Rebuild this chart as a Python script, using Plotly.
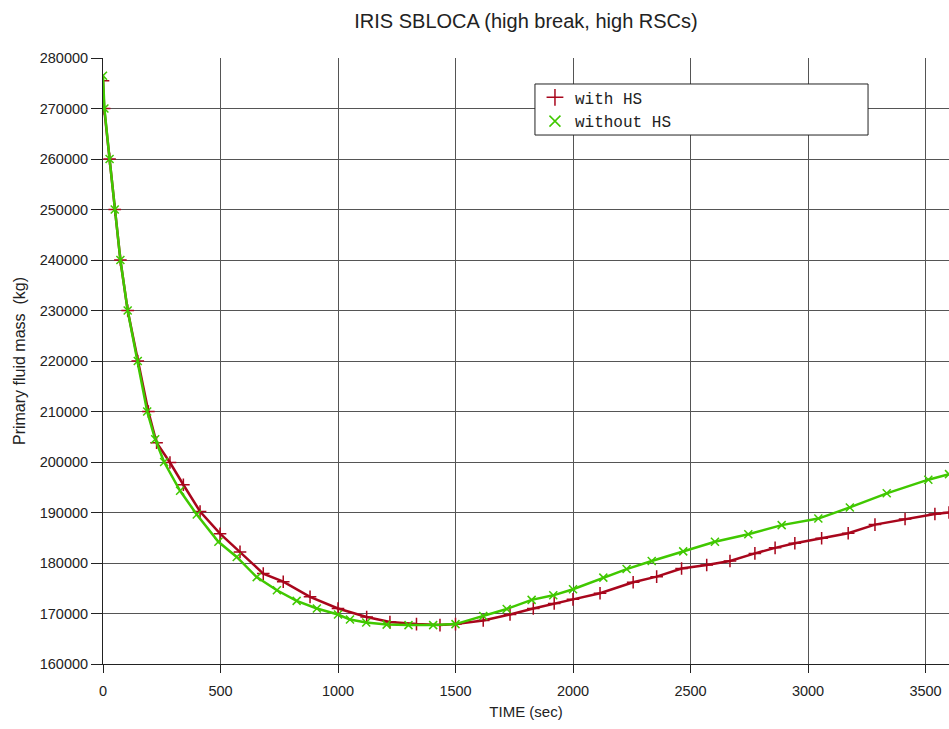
import plotly.graph_objects as go

# Primary fluid mass history, IRIS small-break LOCA (high break, high RSCs)
t_with_hs = [0, 5, 28, 50, 74, 105, 148, 193, 228, 285, 342, 413, 498, 583, 682,
             767, 881, 1000, 1122, 1221, 1334, 1434, 1500, 1618, 1732, 1831, 1920,
             2000, 2115, 2256, 2356, 2462, 2569, 2668, 2774, 2860, 2944, 3058, 3171,
             3285, 3413, 3540, 3600]
m_with_hs = [275500, 270000, 260000, 250000, 240000, 230000, 220000, 210000, 203800,
             199900, 195500, 190200, 185800, 182200, 177900, 176300, 173300, 171000,
             169300, 168300, 167900, 167700, 167900, 168600, 169800, 171000, 172000,
             172800, 174000, 176200, 177300, 178900, 179600, 180400, 181900, 183000,
             183900, 184900, 185900, 187600, 188700, 189700, 190000]

t_without_hs = [0, 6, 28, 50, 74, 105, 148, 188, 222, 260, 328, 399, 491, 569, 654,
                740, 824, 910, 1000, 1051, 1120, 1207, 1300, 1405, 1500, 1618, 1718,
                1824, 1916, 2000, 2129, 2228, 2335, 2469, 2604, 2746, 2888, 3044, 3178,
                3335, 3512, 3600]
m_without_hs = [276500, 270000, 260000, 250000, 240000, 230000, 220000, 210000, 204500,
                200000, 194300, 189600, 184200, 181200, 177200, 174600, 172500, 171000,
                169800, 168800, 168200, 167800, 167700, 167700, 167900, 169500, 170900,
                172700, 173600, 174800, 177100, 178800, 180400, 182300, 184200, 185700,
                187500, 188800, 191000, 193800, 196500, 197600]

series_names = ["with HS", "without HS"]
RED = "#A8061C"
GREEN = "#40C800"

x_ticks = [0, 500, 1000, 1500, 2000, 2500, 3000, 3500]
y_ticks = list(range(160000, 280001, 10000))

fig = go.Figure()

# curves
fig.add_trace(go.Scatter(
    x=t_with_hs, y=m_with_hs, mode="lines+markers", showlegend=False,
    line=dict(color=RED, width=2.5),
    marker=dict(symbol="cross-thin", size=9, color=RED,
                line=dict(color=RED, width=1.5)),
))
fig.add_trace(go.Scatter(
    x=t_without_hs, y=m_without_hs, mode="lines+markers", showlegend=False,
    line=dict(color=GREEN, width=2.5),
    marker=dict(symbol="x-thin", size=8, color=GREEN,
                line=dict(color=GREEN, width=1.5)),
))

# legend entries (symbol only)
fig.add_trace(go.Scatter(
    x=[None], y=[None], mode="markers", name=series_names[0],
    marker=dict(symbol="cross-thin", size=12, color=RED,
                line=dict(color=RED, width=1.5)),
))
fig.add_trace(go.Scatter(
    x=[None], y=[None], mode="markers", name=series_names[1],
    marker=dict(symbol="x-thin", size=11, color=GREEN,
                line=dict(color=GREEN, width=1.5)),
))

SANS = "Liberation Sans, Arial"
tick_font = dict(family=SANS, size=14.5, color="#222")

# framed panel behind the legend entries
fig.add_shape(type="rect", xref="paper", yref="paper",
              x0=0.5106, x1=0.9043, y0=0.8729, y1=0.9571,
              fillcolor="white", line=dict(color="#222", width=1), layer="above")

fig.update_layout(
    width=949, height=729,
    margin=dict(l=103, r=0, t=58, b=65),
    paper_bgcolor="white", plot_bgcolor="white",
    title=dict(text="IRIS SBLOCA (high break, high RSCs)",
               x=(103 + 949) / 2 / 949, xanchor="center", y=1 - 21 / 729, yanchor="middle",
               font=dict(family=SANS, size=20, color="#222")),
    legend=dict(x=0.5106, y=0.963, xanchor="left", yanchor="top",
                bgcolor="rgba(0,0,0,0)", borderwidth=0,
                font=dict(family="Liberation Mono, Courier New, monospace", size=16, color="#222"),
                tracegroupgap=0, itemwidth=30),
    xaxis=dict(range=[0, 3600], tickvals=x_ticks, showgrid=True, gridcolor="#555", gridwidth=1,
               zeroline=False, showline=True, linecolor="#222", linewidth=1,
               ticks="outside", ticklen=8, tickcolor="#222", tickfont=tick_font,
               ticklabelstandoff=6,
               title=dict(text="TIME (sec)", font=dict(family=SANS, size=15, color="#222"),
                          standoff=8)),
    yaxis=dict(range=[160000, 280000], tickvals=y_ticks, showgrid=True, gridcolor="#555", gridwidth=1,
               zeroline=False, showline=True, linecolor="#222", linewidth=1,
               ticks="outside", ticklen=11, tickcolor="#222", tickfont=tick_font,
               tickformat="d",
               title=dict(text="Primary fluid mass  (kg)",
                          font=dict(family=SANS, size=16, color="#222"), standoff=10)),
)

fig.write_html("out.html")
